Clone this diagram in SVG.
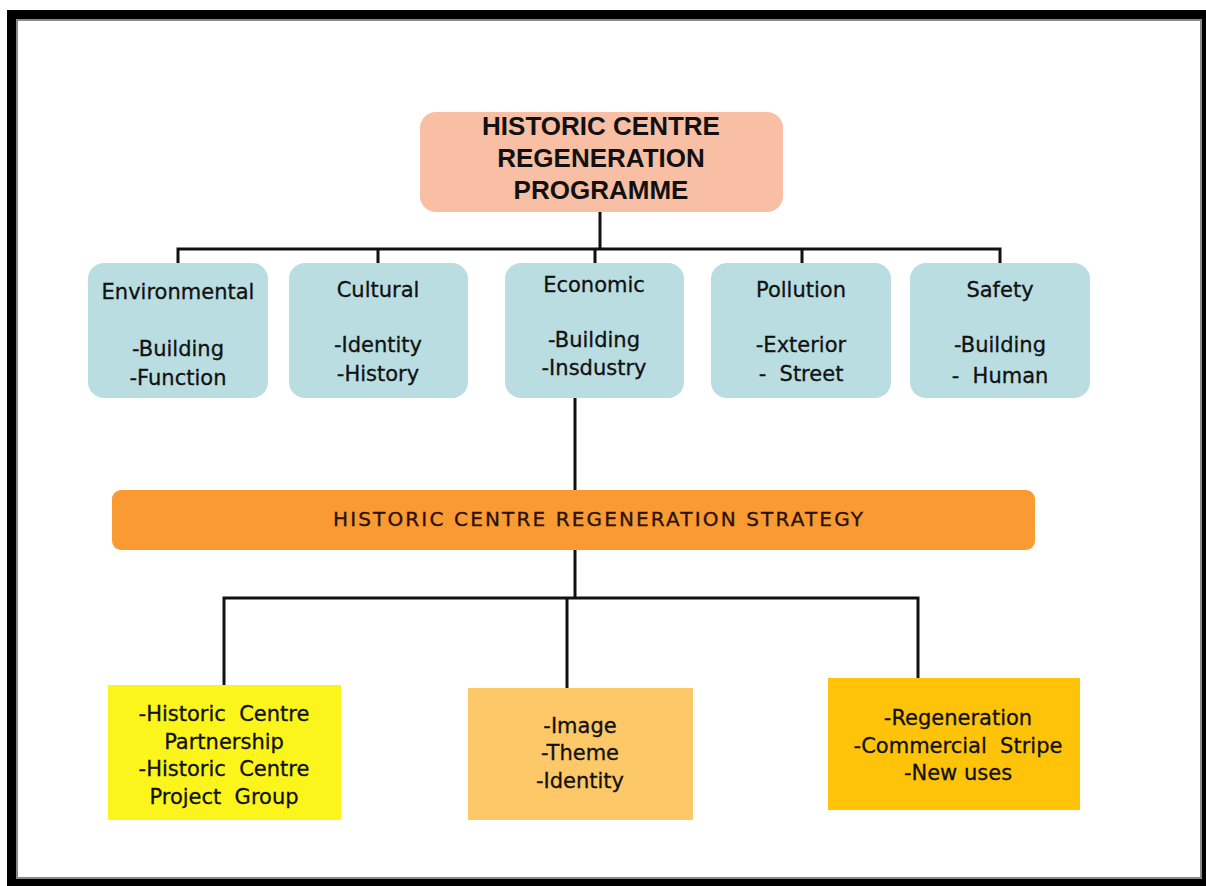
<svg xmlns="http://www.w3.org/2000/svg" width="1206" height="886" viewBox="0 0 1206 886">
  <style>
    .t { font-family: "DejaVu Sans", Verdana, sans-serif; font-size: 21px; fill: #111; text-anchor: middle; stroke: #111; stroke-width: 0.3; }
    .h { font-family: "Liberation Sans", Arial, sans-serif; font-weight: bold; font-size: 26px; fill: #111; text-anchor: middle; }
    .s { font-family: "DejaVu Sans", Verdana, sans-serif; font-size: 20px; fill: #2a1208; text-anchor: middle; stroke: #2a1208; stroke-width: 0.35; }
    .cat { fill: #B9DDE1; }
    .ln { fill: none; stroke: #111; stroke-width: 3; }
  </style>

  <!-- outer frame -->
  <rect x="7" y="10" width="1199" height="876" fill="#000"/>
  <rect x="17" y="20" width="1184" height="858" fill="#fff" stroke="#8a8a8a" stroke-width="2"/>

  <!-- connectors -->
  <g id="connectors" class="ln">
    <path d="M600 212 V249"/>
    <path d="M178 263 V249 H1000 V263"/>
    <path d="M378 249 V263"/>
    <path d="M595 249 V263"/>
    <path d="M802 249 V263"/>
    <path d="M575 398 V598"/>
    <path d="M224 685 V598 H918 V678"/>
    <path d="M567 598 V688"/>
  </g>

  <g id="programme">
    <rect x="420" y="112" width="363" height="100" rx="16" fill="#F8BFA4"/>
    <text class="h" x="601" y="135">HISTORIC CENTRE</text>
    <text class="h" x="601" y="167">REGENERATION</text>
    <text class="h" x="601" y="199">PROGRAMME</text>
  </g>

  <g id="environmental">
    <rect class="cat" x="88" y="263" width="180" height="135" rx="16"/>
    <text class="t" x="178" y="299">Environmental</text>
    <text class="t" x="178" y="356">-Building</text>
    <text class="t" x="178" y="385">-Function</text>
  </g>

  <g id="cultural">
    <rect class="cat" x="289" y="263" width="179" height="135" rx="16"/>
    <text class="t" x="378" y="297">Cultural</text>
    <text class="t" x="378" y="352">-Identity</text>
    <text class="t" x="378" y="381">-History</text>
  </g>

  <g id="economic">
    <rect class="cat" x="505" y="263" width="179" height="135" rx="16"/>
    <text class="t" x="594" y="292">Economic</text>
    <text class="t" x="594" y="347">-Building</text>
    <text class="t" x="594" y="375">-Insdustry</text>
  </g>

  <g id="pollution">
    <rect class="cat" x="711" y="263" width="180" height="135" rx="16"/>
    <text class="t" x="801" y="297">Pollution</text>
    <text class="t" x="801" y="352">-Exterior</text>
    <text class="t" x="801" y="381">-&#160;&#160;Street</text>
  </g>

  <g id="safety">
    <rect class="cat" x="910" y="263" width="180" height="135" rx="16"/>
    <text class="t" x="1000" y="297">Safety</text>
    <text class="t" x="1000" y="352">-Building</text>
    <text class="t" x="1000" y="383">-&#160;&#160;Human</text>
  </g>

  <g id="strategy">
    <rect x="112" y="490" width="923" height="60" rx="9" fill="#FA9A33"/>
    <text class="s" x="598" y="526" textLength="530" lengthAdjust="spacing">HISTORIC CENTRE REGENERATION STRATEGY</text>
  </g>

  <g id="partnership">
    <rect x="108" y="685" width="233" height="135" fill="#FBF51C"/>
    <text class="t" x="224" y="721">-Historic&#160; Centre</text>
    <text class="t" x="224" y="749">Partnership</text>
    <text class="t" x="224" y="776">-Historic&#160; Centre</text>
    <text class="t" x="224" y="804">Project&#160; Group</text>
  </g>

  <g id="image">
    <rect x="468" y="688" width="225" height="132" fill="#FDC867"/>
    <text class="t" x="580" y="733">-Image</text>
    <text class="t" x="580" y="760">-Theme</text>
    <text class="t" x="580" y="788">-Identity</text>
  </g>

  <g id="uses">
    <rect x="828" y="678" width="252" height="132" fill="#FFC40A"/>
    <text class="t" x="958" y="725">-Regeneration</text>
    <text class="t" x="958" y="753">-Commercial&#160; Stripe</text>
    <text class="t" x="958" y="780">-New uses</text>
  </g>
</svg>
